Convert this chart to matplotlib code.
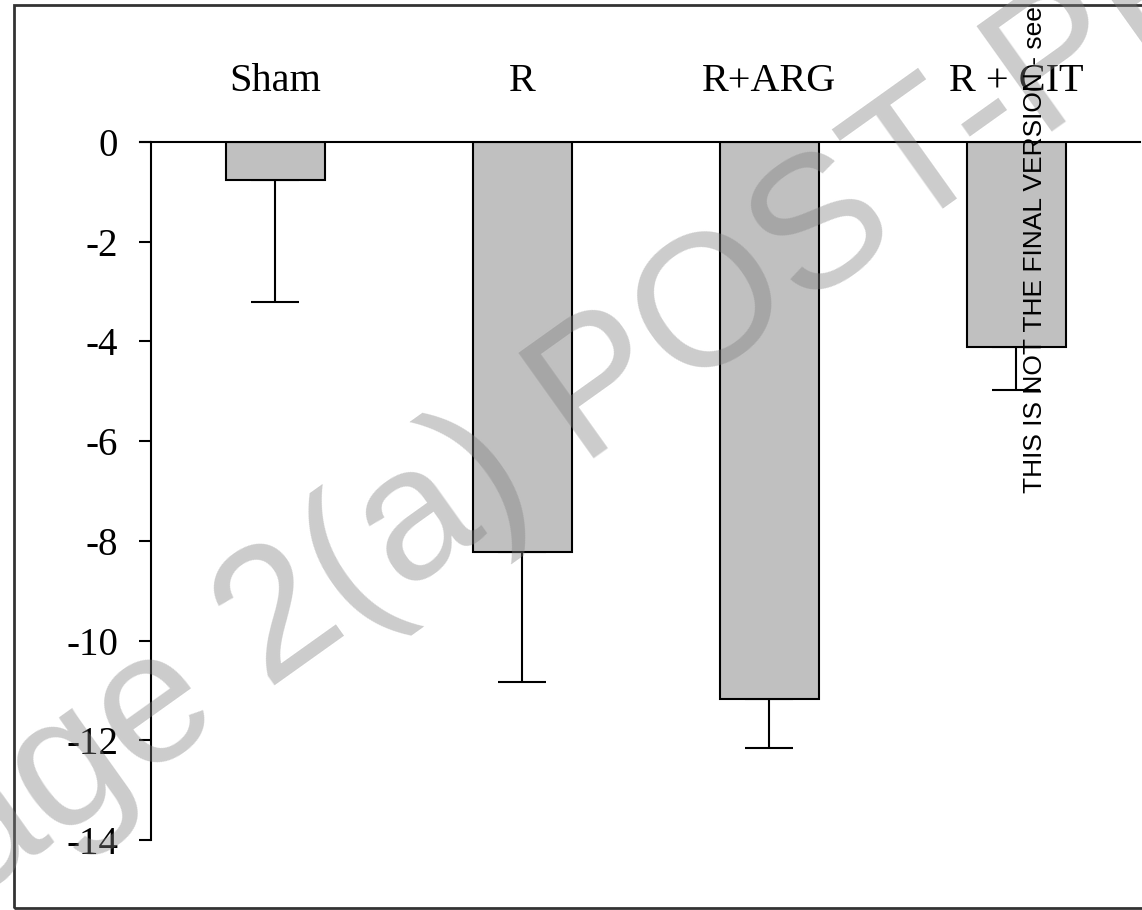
import matplotlib
matplotlib.use("Agg")
import matplotlib.pyplot as plt
from matplotlib.patches import Rectangle
import numpy as np

plt.rcParams['axes.unicode_minus'] = False

categories = ["Sham", "R", "R+ARG", "R + CIT"]
means = [-0.76, -8.22, -11.17, -4.11]
err_low = [2.45, 2.61, 0.98, 0.86]
yticks = [0, -2, -4, -6, -8, -10, -12, -14]
ytick_labels = ["0", "-2", "-4", "-6", "-8", "-10", "-12", "-14"]

W, H = 1142, 910
fig = plt.figure(figsize=(W / 100, H / 100), dpi=100)

# axes box in pixels: x 151..1140, y 142..840 (from top)
ax = fig.add_axes([151 / W, (H - 840) / H, (1140 - 151) / W, (840 - 142) / H])
x = np.arange(len(categories))
ax.bar(x, means, width=0.40, color="#c0c0c0", edgecolor="black", linewidth=1.5, zorder=2)
ax.errorbar(x, means, yerr=[err_low, [0] * len(means)], fmt="none", ecolor="black",
            elinewidth=1.5, capsize=17, capthick=1.5, zorder=1)

ax.set_xlim(-0.504, 3.5)
ax.set_ylim(-14, 0)
ax.set_yticks(yticks)
ax.set_yticklabels(ytick_labels, fontfamily="Liberation Serif", fontsize=28)
ax.set_xticks(x)
ax.set_xticklabels(categories, fontfamily="Liberation Serif", fontsize=29)
ax.xaxis.set_ticks_position("top")
ax.tick_params(axis="x", length=0, pad=30)
ax.tick_params(axis="y", direction="out", length=8.5, width=1.5, pad=15)
for s in ["right", "bottom"]:
    ax.spines[s].set_visible(False)
ax.spines["left"].set_linewidth(1.5)
ax.spines["top"].set_linewidth(1.5)
ax.spines["top"].set_bounds(-0.55, 3.5)
ax.set_facecolor("none")

# outer border
fig.patches.append(Rectangle((14 / W, (H - 908) / H), 1.2, (908 - 5) / H,
                             transform=fig.transFigure, fill=False,
                             edgecolor="#333333", linewidth=2, zorder=0))

# diagonal watermark
fig.text(-132 / W, (H - 975) / H, "Page 2(a) POST-PRINT", rotation=35.5,
         rotation_mode="anchor", ha="left", va="baseline", fontsize=135,
         fontfamily="Liberation Sans", color="#808080", alpha=0.4, zorder=5)

# vertical notice
fig.text(1042 / W, (H - 493) / H, "THIS IS NOT THE FINAL VERSION - see doi", rotation=90,
         rotation_mode="anchor", ha="left", va="baseline", fontsize=19,
         fontfamily="Liberation Sans", color="black", zorder=6)

fig.savefig("out.png", dpi=100)
